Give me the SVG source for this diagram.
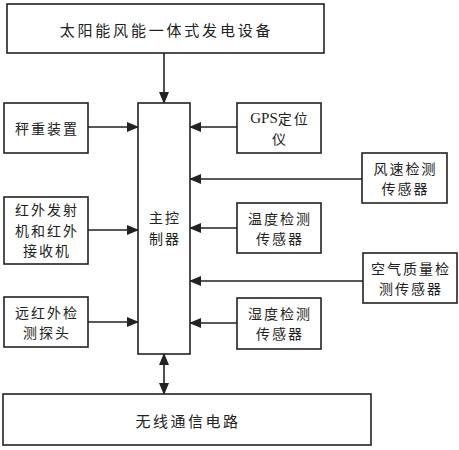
<svg xmlns="http://www.w3.org/2000/svg" width="459" height="450" viewBox="0 0 459 450">
<style>
.box{fill:#fff;stroke:#222;stroke-width:1.6}
.t{font-family:"Noto Sans CJK SC","Liberation Serif",serif;font-size:14px;fill:#222;text-anchor:middle;dominant-baseline:central;letter-spacing:2px}
.c{stroke:#222;stroke-width:1.6;fill:none}
</style>
<defs>
<marker id="ah" markerWidth="12" markerHeight="10" refX="11" refY="5" orient="auto-start-reverse" markerUnits="userSpaceOnUse">
<path d="M0,0 L12,5 L0,10 Z" fill="#222"/>
</marker>
</defs>
<rect width="459" height="450" fill="#fff"/>
<g id="connectors">
<line class="c" x1="164" y1="53" x2="164" y2="103" marker-end="url(#ah)"/>
<line class="c" x1="88" y1="127" x2="138" y2="127" marker-end="url(#ah)"/>
<line class="c" x1="88" y1="230" x2="138" y2="230" marker-end="url(#ah)"/>
<line class="c" x1="88" y1="322" x2="138" y2="322" marker-end="url(#ah)"/>
<line class="c" x1="237" y1="127" x2="190" y2="127" marker-end="url(#ah)"/>
<line class="c" x1="363" y1="179" x2="190" y2="179" marker-end="url(#ah)"/>
<line class="c" x1="237" y1="228" x2="190" y2="228" marker-end="url(#ah)"/>
<line class="c" x1="363" y1="281" x2="190" y2="281" marker-end="url(#ah)"/>
<line class="c" x1="237" y1="323" x2="190" y2="323" marker-end="url(#ah)"/>
<line class="c" x1="164" y1="354" x2="164" y2="394" marker-start="url(#ah)" marker-end="url(#ah)"/>
</g>
<g id="top"><rect class="box" x="7" y="4" width="317" height="49"/><text class="t" x="166.5" y="29" style="font-size:15px;letter-spacing:2.8px">太阳能风能一体式发电设备</text></g>
<g id="main"><rect class="box" x="138" y="103" width="52" height="251"/><text class="t" x="165" y="217">主控</text><text class="t" x="165" y="238">制器</text></g>
<g id="weigh"><rect class="box" x="4" y="103" width="84" height="50"/><text class="t" x="47" y="128">秤重装置</text></g>
<g id="ir"><rect class="box" x="4" y="197" width="84" height="67"/><text class="t" x="47" y="209">红外发射</text><text class="t" x="47" y="229.5">机和红外</text><text class="t" x="47" y="250">接收机</text></g>
<g id="fir"><rect class="box" x="4" y="297" width="84" height="50"/><text class="t" x="47" y="311.5">远红外检</text><text class="t" x="47" y="332">测探头</text></g>
<g id="gps"><rect class="box" x="237" y="103" width="84" height="50"/><text class="t" x="280" y="117.5" style="font-family:'Liberation Serif','Noto Sans CJK SC',serif;font-size:15px;letter-spacing:0">GPS<tspan style="font-family:'Noto Sans CJK SC',serif;font-size:14px;letter-spacing:2px">定位</tspan></text><text class="t" x="280" y="138">仪</text></g>
<g id="wind"><rect class="box" x="362" y="153" width="85" height="50"/><text class="t" x="405.5" y="167.5">风速检测</text><text class="t" x="405.5" y="188">传感器</text></g>
<g id="temp"><rect class="box" x="237" y="203" width="84" height="50"/><text class="t" x="280" y="217.5">温度检测</text><text class="t" x="280" y="238">传感器</text></g>
<g id="air"><rect class="box" x="363" y="253" width="94" height="50"/><text class="t" x="411" y="267.5">空气质量检</text><text class="t" x="411" y="288">测传感器</text></g>
<g id="hum"><rect class="box" x="237" y="298" width="84" height="51"/><text class="t" x="280" y="312.5">湿度检测</text><text class="t" x="280" y="333">传感器</text></g>
<g id="wireless"><rect class="box" x="3" y="394" width="368" height="51"/><text class="t" x="188" y="420" style="font-size:15px;letter-spacing:2.5px">无线通信电路</text></g>
</svg>
